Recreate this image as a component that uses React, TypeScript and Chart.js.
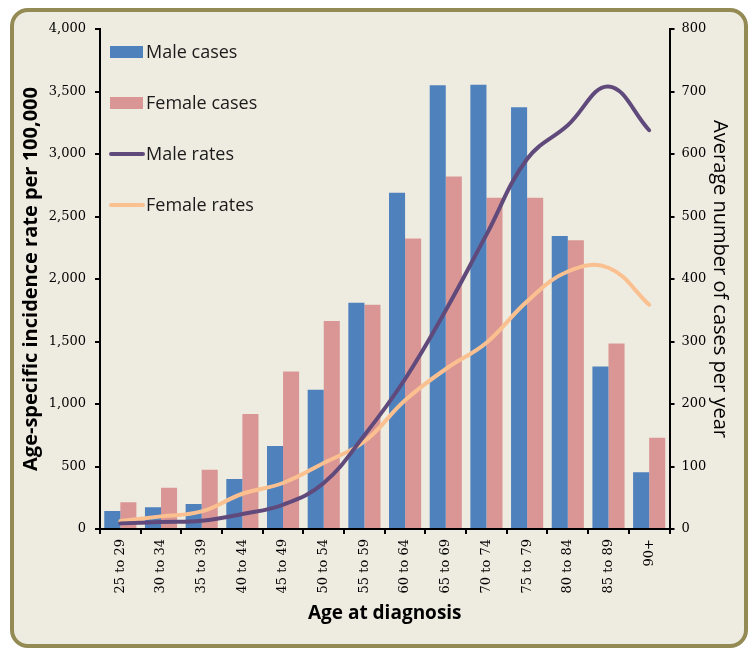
import React, { useEffect, useRef } from "react";
import { Chart, registerables } from "chart.js";

Chart.register(...registerables);

const categories = [
  "25 to 29", "30 to 34", "35 to 39", "40 to 44", "45 to 49", "50 to 54", "55 to 59",
  "60 to 64", "65 to 69", "70 to 74", "75 to 79", "80 to 84", "85 to 89", "90+",
];
// Average number of cases per year (right axis)
const maleCases = [29, 35, 40, 80, 133, 223, 362, 538, 710, 711, 675, 469, 260, 91];
const femaleCases = [43, 66, 95, 184, 252, 333, 359, 465, 564, 530, 530, 462, 297, 146];
// Age-specific incidence rate per 100,000 (left axis)
const maleRates = [45, 56, 66, 120, 194, 368, 750, 1200, 1750, 2355, 2960, 3230, 3540, 3190];
const femaleRates = [64, 101, 141, 282, 368, 528, 700, 1030, 1280, 1490, 1821, 2060, 2090, 1794];

const leftMax = 4000;
const leftStep = 500;
const rightMax = 800;
const rightStep = 100;

const seriesLabels = ["Male cases", "Female cases", "Male rates", "Female rates"];
const leftTitle = "Age-specific incidence rate per 100,000";
const rightTitle = "Average number of cases per year";
const xTitle = "Age at diagnosis";

const BLUE = "#4F81BD";
const PINK = "#D99694";
const PURPLE = "#604A7B";
const ORANGE = "#FAC090";

const tickFont = { family: "'DejaVu Serif'", size: 13 };

const insideLegend = {
  id: "insideLegend",
  afterDatasetsDraw(chart: any) {
    const { ctx, chartArea } = chart;
    const x0 = chartArea.left + 10;
    const y0 = chartArea.top + 23;
    chart.data.datasets.forEach((ds: any, i: number) => {
      const y = y0 + i * 51;
      ctx.save();
      if (ds.type === "bar") {
        ctx.fillStyle = ds.backgroundColor;
        ctx.fillRect(x0, y - 6, 33, 12);
      } else {
        ctx.strokeStyle = ds.borderColor;
        ctx.lineWidth = 4;
        ctx.lineCap = "round";
        ctx.beginPath();
        ctx.moveTo(x0 + 1, y);
        ctx.lineTo(x0 + 33, y);
        ctx.stroke();
      }
      ctx.fillStyle = "#1a1a1a";
      ctx.font = "18px 'Open Sans'";
      ctx.textBaseline = "middle";
      ctx.textAlign = "left";
      ctx.fillText(ds.label, x0 + 36, y + 1);
      ctx.restore();
    });
  },
};

export default function App() {
  const ref = useRef<HTMLCanvasElement | null>(null);

  useEffect(() => {
    if (!ref.current) return;
    const chart = new Chart(ref.current, {
      type: "bar",
      data: {
        labels: categories,
        datasets: [
          {
            type: "bar",
            label: seriesLabels[0],
            data: maleCases,
            backgroundColor: BLUE,
            yAxisID: "y1",
            order: 2,
            categoryPercentage: 0.79,
            barPercentage: 1,
          },
          {
            type: "bar",
            label: seriesLabels[1],
            data: femaleCases,
            backgroundColor: PINK,
            yAxisID: "y1",
            order: 2,
            categoryPercentage: 0.79,
            barPercentage: 1,
          },
          {
            type: "line",
            label: seriesLabels[2],
            data: maleRates,
            borderColor: PURPLE,
            backgroundColor: PURPLE,
            borderWidth: 4,
            pointRadius: 0,
            tension: 0.4,
            borderCapStyle: "round",
            yAxisID: "y",
            order: 1,
          },
          {
            type: "line",
            label: seriesLabels[3],
            data: femaleRates,
            borderColor: ORANGE,
            backgroundColor: ORANGE,
            borderWidth: 4,
            pointRadius: 0,
            tension: 0.4,
            borderCapStyle: "round",
            yAxisID: "y",
            order: 1,
          },
        ] as any,
      },
      options: {
        responsive: false,
        animation: false,
        devicePixelRatio: 1,
        layout: { padding: { top: 29, left: 0, right: 0, bottom: 0 } },
        plugins: {
          legend: { display: false },
          tooltip: { enabled: false },
        },
        scales: {
          x: {
            offset: true,
            grid: {
              display: true,
              drawOnChartArea: false,
              drawTicks: true,
              tickLength: 5,
              color: "#000",
              lineWidth: 2,
              offset: true,
            },
            border: { display: true, color: "#000", width: 2 },
            ticks: {
              autoSkip: false,
              maxRotation: 90,
              minRotation: 90,
              font: tickFont,
              color: "#000",
              padding: 5,
            },
            title: {
              display: true,
              text: xTitle,
              color: "#000",
              font: { family: "'Open Sans'", size: 19, weight: "bold" },
              padding: { top: 0, bottom: 25 },
            },
            afterFit: (s: any) => {
              s.height = 121;
            },
          },
          y: {
            position: "left",
            min: 0,
            max: leftMax,
            grid: {
              display: true,
              drawOnChartArea: false,
              drawTicks: true,
              tickLength: 5,
              color: "#000",
              lineWidth: 2,
            },
            border: { display: true, color: "#000", width: 2 },
            ticks: {
              stepSize: leftStep,
              font: tickFont,
              color: "#000",
              padding: 9,
              callback: (v: any) => Number(v).toLocaleString("en-US"),
            },
            title: {
              display: true,
              text: leftTitle,
              color: "#000",
              font: { family: "'Open Sans'", size: 20, weight: "bold" },
              padding: { top: 19, bottom: 0 },
            },
            afterFit: (s: any) => {
              s.width = 100;
            },
          },
          y1: {
            position: "right",
            min: 0,
            max: rightMax,
            grid: {
              display: true,
              drawOnChartArea: false,
              drawTicks: true,
              tickLength: 5,
              color: "#000",
              lineWidth: 2,
            },
            border: { display: true, color: "#000", width: 2 },
            ticks: {
              stepSize: rightStep,
              font: tickFont,
              color: "#000",
              padding: 7,
            },
            title: {
              display: true,
              text: rightTitle,
              color: "#000",
              font: { family: "'Open Sans'", size: 20 },
              padding: { top: 20, bottom: 0 },
            },
            afterFit: (s: any) => {
              s.width = 82.5;
            },
          },
        },
      } as any,
      plugins: [insideLegend],
    });
    return () => chart.destroy();
  }, []);

  return (
    <div style={{ position: "absolute", left: 0, top: 0, width: 752, height: 650, background: "#fff" }}>
      <div
        style={{
          position: "absolute",
          left: 10,
          top: 8,
          width: 738,
          height: 640,
          boxSizing: "border-box",
          border: "4px solid #948A54",
          borderRadius: 18,
          background: "#EEECE1",
        }}
      />
      <canvas
        ref={ref}
        width={752}
        height={650}
        style={{ position: "absolute", left: 0, top: 0, width: 752, height: 650 }}
      />
    </div>
  );
}
